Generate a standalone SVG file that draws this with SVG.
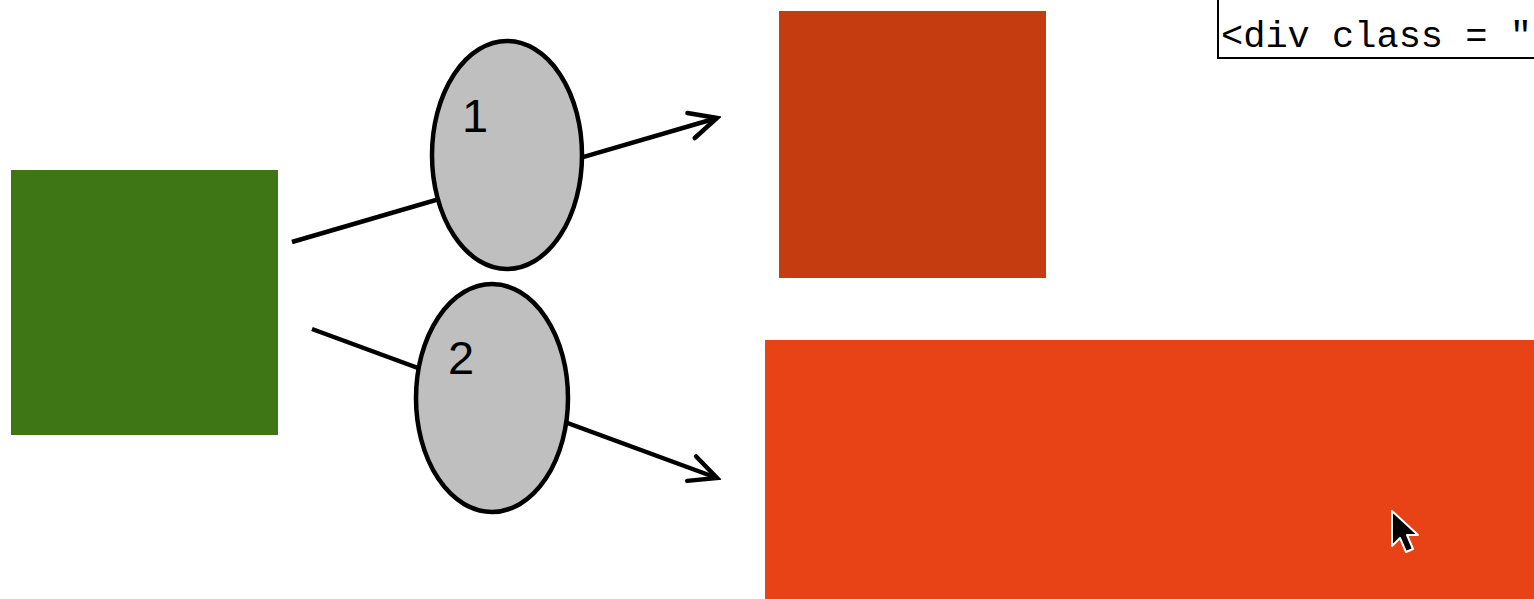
<svg xmlns="http://www.w3.org/2000/svg" width="1534" height="599" viewBox="0 0 1534 599">
<style>
.conn{stroke:#000;stroke-width:4.5;fill:none;stroke-linecap:butt}
.oval{fill:#bfbfbf;stroke:#000;stroke-width:4.5}
.lbl{font-family:"Liberation Sans",Arial,sans-serif;font-size:47px;fill:#000}
.code{font-family:"Liberation Mono","Courier New",monospace;font-size:37px;fill:#000}
</style>
<defs>
<marker id="arr" markerUnits="userSpaceOnUse" viewBox="-32 -18 36 36" markerWidth="36" markerHeight="36" refX="0" refY="0" orient="auto">
<path d="M-27,-13 L0,0 L-27,13" fill="none" stroke="#000" stroke-width="4.5" stroke-linecap="round" stroke-linejoin="miter"/>
</marker>
</defs>
<rect width="1534" height="599" fill="#fff"/>
<g id="green"><rect x="11" y="170" width="267" height="265" fill="#3e7615"/></g>
<g id="darkorange"><rect x="779" y="11" width="267" height="267" fill="#c43c10"/></g>
<g id="orange"><rect x="765" y="340" width="769" height="259" fill="#e84316"/></g>
<g id="codebox">
<rect x="1218" y="-10" width="400" height="68" fill="#fff" stroke="#000" stroke-width="2"/>
<text class="code" x="1221" y="47" xml:space="preserve">&lt;div class = "</text>
</g>
<g id="connectors">
<line class="conn" x1="292" y1="242" x2="717" y2="118" marker-end="url(#arr)"/>
<line class="conn" x1="312" y1="329" x2="717" y2="478" marker-end="url(#arr)"/>
</g>
<g id="oval1">
<ellipse class="oval" cx="507" cy="155" rx="75" ry="114"/>
<text class="lbl" x="462" y="132">1</text>
</g>
<g id="oval2">
<ellipse class="oval" cx="492" cy="398" rx="76" ry="114"/>
<text class="lbl" x="448" y="374">2</text>
</g>
<g id="cursor">
<polygon points="1392,511 1392,546 1400,538 1406,552 1413,549 1407,535 1418,535" fill="#000" stroke="#fff" stroke-width="2" stroke-linejoin="round"/>
</g>
</svg>
